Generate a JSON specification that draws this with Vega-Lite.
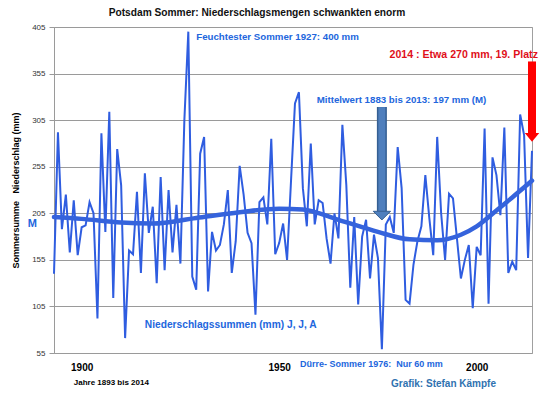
{
  "$schema": "https://vega.github.io/schema/vega-lite/v6.json",
  "width": 478,
  "height": 326,
  "autosize": {"type": "none"},
  "padding": {"left": 54, "top": 27, "right": 8, "bottom": 44},
  "background": "white",
  "config": {
    "font": "Liberation Sans",
    "view": {"stroke": "#a0a0a0", "strokeWidth": 1}
  },
  "title": {
    "text": "Potsdam Sommer: Niederschlagsmengen schwankten enorm",
    "fontSize": 10.2,
    "fontWeight": "bold",
    "color": "#111",
    "anchor": "middle",
    "dx": -36,
    "offset": 5
  },
  "datasets": {
    "rain": [
      {"year":1893,"mm":140},{"year":1894,"mm":292},{"year":1895,"mm":188},{"year":1896,"mm":225},{"year":1897,"mm":163},
      {"year":1898,"mm":219},{"year":1899,"mm":160},{"year":1900,"mm":190},{"year":1901,"mm":192},{"year":1902,"mm":217},
      {"year":1903,"mm":205},{"year":1904,"mm":92},{"year":1905,"mm":291},{"year":1906,"mm":185},{"year":1907,"mm":314},
      {"year":1908,"mm":114},{"year":1909,"mm":274},{"year":1910,"mm":235},{"year":1911,"mm":71},{"year":1912,"mm":165},
      {"year":1913,"mm":161},{"year":1914,"mm":228},{"year":1915,"mm":141},{"year":1916,"mm":248},{"year":1917,"mm":184},
      {"year":1918,"mm":212},{"year":1919,"mm":130},{"year":1920,"mm":244},{"year":1921,"mm":144},{"year":1922,"mm":230},
      {"year":1923,"mm":163},{"year":1924,"mm":214},{"year":1925,"mm":151},{"year":1926,"mm":305},{"year":1927,"mm":400},
      {"year":1928,"mm":137},{"year":1929,"mm":123},{"year":1930,"mm":269},{"year":1931,"mm":287},{"year":1932,"mm":121},
      {"year":1933,"mm":185},{"year":1934,"mm":165},{"year":1935,"mm":171},{"year":1936,"mm":193},{"year":1937,"mm":230},
      {"year":1938,"mm":141},{"year":1939,"mm":175},{"year":1940,"mm":256},{"year":1941,"mm":225},{"year":1942,"mm":184},
      {"year":1943,"mm":173},{"year":1944,"mm":96},{"year":1945,"mm":217},{"year":1946,"mm":222},{"year":1947,"mm":193},
      {"year":1948,"mm":285},{"year":1949,"mm":161},{"year":1950,"mm":173},{"year":1951,"mm":194},{"year":1952,"mm":155},
      {"year":1953,"mm":240},{"year":1954,"mm":323},{"year":1955,"mm":335},{"year":1956,"mm":232},{"year":1957,"mm":191},
      {"year":1958,"mm":280},{"year":1959,"mm":193},{"year":1960,"mm":219},{"year":1961,"mm":216},{"year":1962,"mm":178},
      {"year":1963,"mm":151},{"year":1964,"mm":205},{"year":1965,"mm":178},{"year":1966,"mm":300},{"year":1967,"mm":235},
      {"year":1968,"mm":125},{"year":1969,"mm":201},{"year":1970,"mm":107},{"year":1971,"mm":180},{"year":1972,"mm":198},
      {"year":1973,"mm":135},{"year":1974,"mm":182},{"year":1975,"mm":157},{"year":1976,"mm":59},{"year":1977,"mm":193},
      {"year":1978,"mm":201},{"year":1979,"mm":184},{"year":1980,"mm":276},{"year":1981,"mm":232},{"year":1982,"mm":112},
      {"year":1983,"mm":108},{"year":1984,"mm":150},{"year":1985,"mm":175},{"year":1986,"mm":191},{"year":1987,"mm":246},
      {"year":1988,"mm":200},{"year":1989,"mm":160},{"year":1990,"mm":287},{"year":1991,"mm":205},{"year":1992,"mm":155},
      {"year":1993,"mm":226},{"year":1994,"mm":221},{"year":1995,"mm":178},{"year":1996,"mm":135},{"year":1997,"mm":155},
      {"year":1998,"mm":171},{"year":1999,"mm":103},{"year":2000,"mm":169},{"year":2001,"mm":160},{"year":2002,"mm":296},
      {"year":2003,"mm":108},{"year":2004,"mm":265},{"year":2005,"mm":246},{"year":2006,"mm":203},{"year":2007,"mm":297},
      {"year":2008,"mm":141},{"year":2009,"mm":153},{"year":2010,"mm":144},{"year":2011,"mm":311},{"year":2012,"mm":289},
      {"year":2013,"mm":157},{"year":2014,"mm":272}
    ],
    "trend": [
      {"year":1893,"mm":201},{"year":1900,"mm":199},{"year":1910,"mm":195},{"year":1918,"mm":194},{"year":1929,"mm":200},
      {"year":1940,"mm":206},{"year":1950,"mm":210},{"year":1956,"mm":209},{"year":1965,"mm":198},{"year":1975,"mm":185},
      {"year":1983,"mm":177},{"year":1990,"mm":176},{"year":1996,"mm":182},{"year":2000,"mm":191},{"year":2005,"mm":208},
      {"year":2009,"mm":222},{"year":2014,"mm":240}
    ],
    "notes": [
      {"year":1929,"mm":394,"label":"Feuchtester Sommer 1927: 400 mm","size":"m"},
      {"year":1959.5,"mm":327,"label":"Mittelwert 1883 bis 2013: 197 mm (M)","size":"m"},
      {"year":1916,"mm":85,"label":"Niederschlagssummen (mm) J, J, A","size":"l"},
      {"year":1955.3,"mm":43,"label":"Dürre- Sommer 1976:\u00a0\u00a0Nur 60 mm","size":"s"}
    ],
    "red": [
      {"year":2015.5,"mm":375,"label":"2014 : Etwa 270 mm, 19. Platz"}
    ],
    "mlabel": [
      {"year":1887.5,"mm":193,"label":"M"}
    ],
    "foot": [
      {"year":1898,"mm":23,"label":"Jahre 1893 bis 2014","kind":"black"},
      {"year":1978.3,"mm":22,"label":"Grafik: Stefan Kämpfe","kind":"steel"}
    ],
    "arrows": [
      {"year":1976,"top":319,"base":207,"head":202.5,"kind":"mean"},
      {"year":2014,"top":368,"base":291,"head":286.5,"kind":"now"}
    ]
  },
  "encoding": {
    "x": {
      "field": "year", "type": "quantitative",
      "scale": {"domain": [1893, 2014], "nice": false, "zero": false},
      "axis": {
        "title": null, "values": [1900, 1950, 2000], "format": "d",
        "grid": false, "ticks": false, "domain": false,
        "labelFontSize": 10, "labelFontWeight": "bold", "labelColor": "#000",
        "labelPadding": 9, "labelFlush": false
      }
    },
    "y": {
      "field": "mm", "type": "quantitative",
      "scale": {"domain": [55, 405], "nice": false, "zero": false},
      "axis": {
        "title": "Sommersumme\u00a0\u00a0 Niederschlag (mm)",
        "titleFontSize": 9, "titleFontWeight": "bold", "titleColor": "#000", "titlePadding": 11,
        "values": [55, 105, 155, 205, 255, 305, 355, 405],
        "labelFontSize": 8, "labelColor": "#333", "labelPadding": 4,
        "grid": true, "gridColor": "#9a9a9a", "gridWidth": 1.2, "gridOpacity": 1,
        "ticks": true, "tickSize": 5, "tickColor": "#9a9a9a",
        "domain": true, "domainColor": "#9a9a9a"
      }
    }
  },
  "layer": [
    {
      "data": {"name": "rain"},
      "mark": {"type": "line", "color": "#2f5de0", "strokeWidth": 2, "strokeJoin": "miter"}
    },
    {
      "data": {"name": "trend"},
      "mark": {"type": "line", "color": "#3563dc", "strokeWidth": 4.5, "interpolate": "monotone", "strokeCap": "round"}
    },
    {
      "data": {"name": "arrows"},
      "transform": [{"filter": "datum.kind == 'mean'"}],
      "mark": {"type": "rule", "color": "#355f93", "strokeWidth": 10, "strokeCap": "butt"},
      "encoding": {"y": {"field": "top", "type": "quantitative"}, "y2": {"field": "base"}}
    },
    {
      "data": {"name": "arrows"},
      "transform": [{"filter": "datum.kind == 'mean'"}],
      "mark": {"type": "rule", "color": "#4f7fbd", "strokeWidth": 7, "strokeCap": "butt"},
      "encoding": {"y": {"field": "top", "type": "quantitative"}, "y2": {"field": "base"}}
    },
    {
      "data": {"name": "arrows"},
      "transform": [{"filter": "datum.kind == 'mean'"}],
      "mark": {"type": "point", "shape": "M-1,-0.5L1,-0.5L0,0.5Z", "filled": true, "size": 300, "color": "#4f7fbd", "stroke": "#355f93", "strokeWidth": 1, "opacity": 1},
      "encoding": {"y": {"field": "head", "type": "quantitative"}}
    },
    {
      "data": {"name": "arrows"},
      "transform": [{"filter": "datum.kind == 'now'"}],
      "mark": {"type": "rule", "color": "#ff0000", "strokeWidth": 8, "strokeCap": "butt"},
      "encoding": {"y": {"field": "top", "type": "quantitative"}, "y2": {"field": "base"}}
    },
    {
      "data": {"name": "arrows"},
      "transform": [{"filter": "datum.kind == 'now'"}],
      "mark": {"type": "point", "shape": "M-1,-0.6L1,-0.6L0,0.6Z", "filled": true, "size": 210, "color": "#ff0000", "opacity": 1},
      "encoding": {"y": {"field": "head", "type": "quantitative"}}
    },
    {
      "data": {"name": "notes"},
      "transform": [{"filter": "datum.size == 'm'"}],
      "mark": {"type": "text", "align": "left", "baseline": "middle", "fontSize": 9.7, "fontWeight": "bold", "color": "#2266dd"},
      "encoding": {"text": {"field": "label"}}
    },
    {
      "data": {"name": "notes"},
      "transform": [{"filter": "datum.size == 'l'"}],
      "mark": {"type": "text", "align": "left", "baseline": "middle", "fontSize": 10.2, "fontWeight": "bold", "color": "#2266dd"},
      "encoding": {"text": {"field": "label"}}
    },
    {
      "data": {"name": "notes"},
      "transform": [{"filter": "datum.size == 's'"}],
      "mark": {"type": "text", "align": "left", "baseline": "middle", "fontSize": 9, "fontWeight": "bold", "color": "#2266dd"},
      "encoding": {"text": {"field": "label"}}
    },
    {
      "data": {"name": "red"},
      "mark": {"type": "text", "align": "right", "baseline": "middle", "fontSize": 10.6, "fontWeight": "bold", "color": "#e0101a"},
      "encoding": {"text": {"field": "label"}}
    },
    {
      "data": {"name": "mlabel"},
      "mark": {"type": "text", "align": "center", "baseline": "middle", "fontSize": 11, "fontWeight": "bold", "color": "#2266dd"},
      "encoding": {"text": {"field": "label"}}
    },
    {
      "data": {"name": "foot"},
      "transform": [{"filter": "datum.kind == 'black'"}],
      "mark": {"type": "text", "align": "left", "baseline": "middle", "fontSize": 8, "fontWeight": "bold", "color": "#000"},
      "encoding": {"text": {"field": "label"}}
    },
    {
      "data": {"name": "foot"},
      "transform": [{"filter": "datum.kind == 'steel'"}],
      "mark": {"type": "text", "align": "left", "baseline": "middle", "fontSize": 10, "fontWeight": "bold", "color": "#2f72b0"},
      "encoding": {"text": {"field": "label"}}
    }
  ]
}
